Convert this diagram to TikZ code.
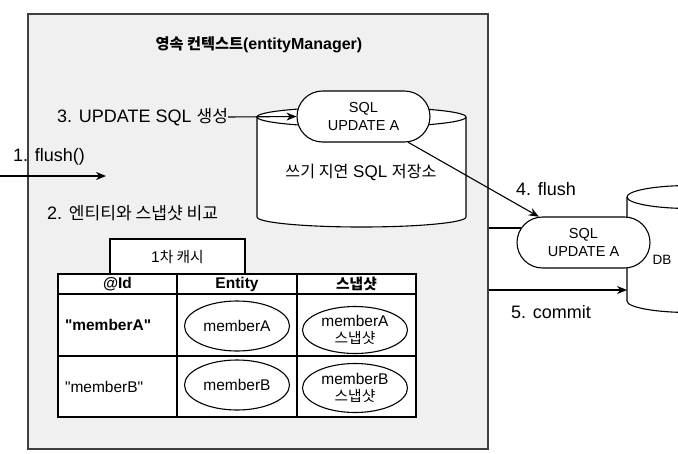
\documentclass[tikz,border=0pt]{standalone}
\usepackage{fontspec}
\setmainfont{Liberation Sans}
\newfontfamily\kr[Scale=0.95]{Noto Sans CJK KR}
\usetikzlibrary{arrows.meta,shapes.misc,shapes.geometric}

\tikzset{
  lbl/.style={inner sep=0pt, font=\fontsize{18}{21}\selectfont},
  pill/.style={rounded rectangle, draw, line width=1.1pt, fill=white, minimum width=133pt,
    minimum height=51pt, inner sep=0pt, align=center, font=\fontsize{14.5}{18}\selectfont},
  cell/.style={draw, line width=1.2pt, inner sep=0pt, font=\fontsize{15.5}{18}\selectfont},
  idcell/.style={cell, text width=105pt, inner xsep=7pt, align=left, minimum height=#1},
  oval/.style={ellipse, draw, line width=1.1pt, fill=white, inner sep=0pt, align=center,
    minimum width=105pt, minimum height=#1, font=\fontsize{15.5}{17}\selectfont},
  arr/.style={line width=1.1pt, -{Stealth[length=10pt,width=8pt]}},
}

\begin{document}
\begin{tikzpicture}[x=1pt, y=-1pt]
\useasboundingbox (0,0) rectangle (678,453);

% persistence context
\node[draw=black!75, line width=1.6pt, fill=black!6, minimum width=460pt, minimum height=435pt,
  inner sep=0pt] (ctx) at (258,231.5) {};
\node[lbl, font=\fontsize{16}{19}\selectfont\bfseries] (title) at (259,45)
  {{\kr\bfseries 영속 컨텍스트}(entityManager)};

% write-behind store
\draw[line width=1.1pt, fill=white] (257,117) -- (257,217)
  arc[start angle=180, end angle=0, x radius=104.5, y radius=10] -- (466,117);
\draw[line width=1.1pt, fill=white] (361.5,117) ellipse[x radius=104.5, y radius=10];
\node[lbl, font=\fontsize{17}{20}\selectfont] (store) at (361,172) {{\kr 쓰기 지연} SQL {\kr 저장소}};

% DB
\draw[line width=1.1pt, fill=white] (627,197) -- (627,301)
  arc[start angle=180, end angle=0, x radius=63, y radius=11.5] -- (753,197);
\draw[line width=1.1pt, fill=white] (690,197) ellipse[x radius=63, y radius=11.5];
\node[lbl, font=\fontsize{13.5}{16}\selectfont] (dblbl) at (662,260) {DB};
\coordinate (dbin) at (627,290);

\node[pill] (sql1) at (363.5,116.5) {SQL\\UPDATE A};
\node[pill] (sql2) at (583.5,242.5) {SQL\\UPDATE A};

% steps
\node[lbl, anchor=west] (flush) at (13,157) {1. flush()};
\coordinate (in) at (0,176);
\coordinate (inend) at (106,176);
\draw[arr] (in) -- (inend);

\node[lbl, anchor=west] (cmp) at (47,213) {2. {\kr 엔티티와 스냅샷 비교}};

\node[lbl, anchor=west] (gen) at (57,117) {3. UPDATE SQL {\kr 생성}};
\draw[arr] (gen.east) -- (sql1.west);

\draw[arr] (sql1.-30) -- (sql2.150);
\node[lbl, anchor=west] (flush4) at (516,189) {4. flush};

\draw[line width=1.1pt] (ctx.east |- sql2.167) -- (sql2.167);

\draw[arr] (ctx.east |- dbin) -- (dbin);
\node[lbl, anchor=west] (commit) at (511,312) {5. commit};

% first-level cache
\node[cell, fill=white, minimum width=135pt, minimum height=35pt] (tab) at (177.5,256.5) {1{\kr 차 캐시}};

\node[cell, fill=white, minimum width=119pt, minimum height=20pt, font=\fontsize{15.5}{18}\selectfont\bfseries] (hid) at (117.5,284) {@Id};
\node[cell, fill=white, minimum width=120pt, minimum height=20pt, font=\fontsize{15.5}{18}\selectfont\bfseries] (hent) at (237,284) {Entity};
\node[cell, fill=white, minimum width=119pt, minimum height=20pt, font=\fontsize{15.5}{18}\selectfont\bfseries] (hsnap) at (356.5,284) {{\kr\bfseries 스냅샷}};

\node[idcell=62pt, fill=white, font=\fontsize{15.5}{18}\selectfont\bfseries] (ida) at (117.5,325) {\textquotedbl memberA\textquotedbl};
\node[cell, fill=white, minimum width=120pt, minimum height=62pt] (enta) at (237,325) {};
\node[cell, fill=white, minimum width=119pt, minimum height=62pt] (snapa) at (356.5,325) {};

\node[idcell=61pt, fill=white] (idb) at (117.5,386.5) {\textquotedbl memberB\textquotedbl};
\node[cell, fill=white, minimum width=120pt, minimum height=61pt] (entb) at (237,386.5) {};
\node[cell, fill=white, minimum width=119pt, minimum height=61pt] (snapb) at (356.5,386.5) {};

\node[oval=50pt] (ea) at (237,326) {memberA};
\node[oval=50pt] (eb) at (237,385) {memberB};
\node[oval=47pt] (sa) at (355,330) {memberA\\{\kr 스냅샷}};
\node[oval=49pt] (sb) at (355,388) {memberB\\{\kr 스냅샷}};

\end{tikzpicture}
\end{document}
